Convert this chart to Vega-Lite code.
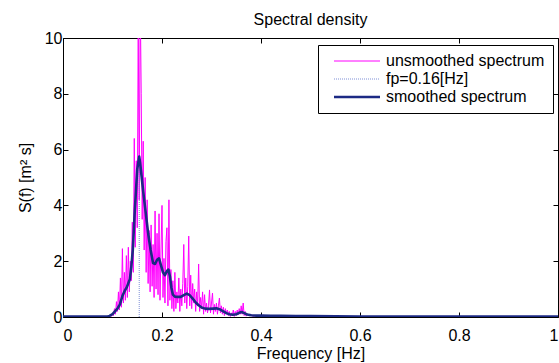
{
  "$schema": "https://vega.github.io/schema/vega-lite/v6.json",
  "width": 495,
  "height": 279,
  "autosize": {"type": "none"},
  "padding": {"left": 63, "top": 38, "right": 1, "bottom": 46},
  "background": "white",
  "title": {"text": "Spectral density", "fontSize": 16, "fontWeight": "normal", "font": "Liberation Sans", "color": "black", "offset": 2, "anchor": "middle"},
  "datasets": {
    "raw": [
      {"f": 0, "S": 0, "series": "unsmoothed spectrum"},
      {"f": 0.09, "S": 0, "series": "unsmoothed spectrum"},
      {"f": 0.094, "S": 0.02, "series": "unsmoothed spectrum"},
      {"f": 0.096, "S": 0.06, "series": "unsmoothed spectrum"},
      {"f": 0.098, "S": 0.03, "series": "unsmoothed spectrum"},
      {"f": 0.1, "S": 0.12, "series": "unsmoothed spectrum"},
      {"f": 0.102, "S": 0.05, "series": "unsmoothed spectrum"},
      {"f": 0.104, "S": 0.3, "series": "unsmoothed spectrum"},
      {"f": 0.106, "S": 0.1, "series": "unsmoothed spectrum"},
      {"f": 0.108, "S": 0.55, "series": "unsmoothed spectrum"},
      {"f": 0.11, "S": 0.2, "series": "unsmoothed spectrum"},
      {"f": 0.112, "S": 0.9, "series": "unsmoothed spectrum"},
      {"f": 0.114, "S": 0.25, "series": "unsmoothed spectrum"},
      {"f": 0.116, "S": 1.4, "series": "unsmoothed spectrum"},
      {"f": 0.118, "S": 0.35, "series": "unsmoothed spectrum"},
      {"f": 0.12, "S": 2.45, "series": "unsmoothed spectrum"},
      {"f": 0.122, "S": 0.5, "series": "unsmoothed spectrum"},
      {"f": 0.124, "S": 1.6, "series": "unsmoothed spectrum"},
      {"f": 0.126, "S": 0.6, "series": "unsmoothed spectrum"},
      {"f": 0.128, "S": 2.2, "series": "unsmoothed spectrum"},
      {"f": 0.13, "S": 0.7, "series": "unsmoothed spectrum"},
      {"f": 0.132, "S": 2.5, "series": "unsmoothed spectrum"},
      {"f": 0.134, "S": 0.9, "series": "unsmoothed spectrum"},
      {"f": 0.136, "S": 2.0, "series": "unsmoothed spectrum"},
      {"f": 0.138, "S": 1.3, "series": "unsmoothed spectrum"},
      {"f": 0.14, "S": 3.4, "series": "unsmoothed spectrum"},
      {"f": 0.142, "S": 1.6, "series": "unsmoothed spectrum"},
      {"f": 0.144, "S": 6.4, "series": "unsmoothed spectrum"},
      {"f": 0.146, "S": 2.5, "series": "unsmoothed spectrum"},
      {"f": 0.148, "S": 5.6, "series": "unsmoothed spectrum"},
      {"f": 0.15, "S": 3.2, "series": "unsmoothed spectrum"},
      {"f": 0.152, "S": 10.6, "series": "unsmoothed spectrum"},
      {"f": 0.154, "S": 4.2, "series": "unsmoothed spectrum"},
      {"f": 0.156, "S": 11.5, "series": "unsmoothed spectrum"},
      {"f": 0.158, "S": 8.0, "series": "unsmoothed spectrum"},
      {"f": 0.16, "S": 3.5, "series": "unsmoothed spectrum"},
      {"f": 0.162, "S": 6.3, "series": "unsmoothed spectrum"},
      {"f": 0.164, "S": 2.4, "series": "unsmoothed spectrum"},
      {"f": 0.166, "S": 5.0, "series": "unsmoothed spectrum"},
      {"f": 0.168, "S": 1.6, "series": "unsmoothed spectrum"},
      {"f": 0.17, "S": 4.2, "series": "unsmoothed spectrum"},
      {"f": 0.172, "S": 1.2, "series": "unsmoothed spectrum"},
      {"f": 0.174, "S": 3.1, "series": "unsmoothed spectrum"},
      {"f": 0.176, "S": 0.9, "series": "unsmoothed spectrum"},
      {"f": 0.178, "S": 3.3, "series": "unsmoothed spectrum"},
      {"f": 0.18, "S": 1.1, "series": "unsmoothed spectrum"},
      {"f": 0.182, "S": 2.6, "series": "unsmoothed spectrum"},
      {"f": 0.184, "S": 0.7, "series": "unsmoothed spectrum"},
      {"f": 0.186, "S": 3.8, "series": "unsmoothed spectrum"},
      {"f": 0.188, "S": 1.0, "series": "unsmoothed spectrum"},
      {"f": 0.19, "S": 3.0, "series": "unsmoothed spectrum"},
      {"f": 0.192, "S": 0.8, "series": "unsmoothed spectrum"},
      {"f": 0.194, "S": 3.7, "series": "unsmoothed spectrum"},
      {"f": 0.196, "S": 0.6, "series": "unsmoothed spectrum"},
      {"f": 0.198, "S": 2.4, "series": "unsmoothed spectrum"},
      {"f": 0.2, "S": 4.0, "series": "unsmoothed spectrum"},
      {"f": 0.202, "S": 0.7, "series": "unsmoothed spectrum"},
      {"f": 0.204, "S": 2.1, "series": "unsmoothed spectrum"},
      {"f": 0.206, "S": 0.5, "series": "unsmoothed spectrum"},
      {"f": 0.208, "S": 2.7, "series": "unsmoothed spectrum"},
      {"f": 0.21, "S": 3.2, "series": "unsmoothed spectrum"},
      {"f": 0.212, "S": 0.4, "series": "unsmoothed spectrum"},
      {"f": 0.214, "S": 4.2, "series": "unsmoothed spectrum"},
      {"f": 0.216, "S": 0.6, "series": "unsmoothed spectrum"},
      {"f": 0.218, "S": 1.7, "series": "unsmoothed spectrum"},
      {"f": 0.22, "S": 0.3, "series": "unsmoothed spectrum"},
      {"f": 0.222, "S": 1.3, "series": "unsmoothed spectrum"},
      {"f": 0.224, "S": 0.2, "series": "unsmoothed spectrum"},
      {"f": 0.226, "S": 1.6, "series": "unsmoothed spectrum"},
      {"f": 0.228, "S": 0.3, "series": "unsmoothed spectrum"},
      {"f": 0.23, "S": 0.9, "series": "unsmoothed spectrum"},
      {"f": 0.232, "S": 0.5, "series": "unsmoothed spectrum"},
      {"f": 0.234, "S": 1.4, "series": "unsmoothed spectrum"},
      {"f": 0.236, "S": 0.2, "series": "unsmoothed spectrum"},
      {"f": 0.238, "S": 1.0, "series": "unsmoothed spectrum"},
      {"f": 0.24, "S": 0.4, "series": "unsmoothed spectrum"},
      {"f": 0.242, "S": 1.2, "series": "unsmoothed spectrum"},
      {"f": 0.244, "S": 2.6, "series": "unsmoothed spectrum"},
      {"f": 0.246, "S": 0.5, "series": "unsmoothed spectrum"},
      {"f": 0.248, "S": 1.4, "series": "unsmoothed spectrum"},
      {"f": 0.25, "S": 0.3, "series": "unsmoothed spectrum"},
      {"f": 0.252, "S": 1.1, "series": "unsmoothed spectrum"},
      {"f": 0.254, "S": 2.9, "series": "unsmoothed spectrum"},
      {"f": 0.256, "S": 0.4, "series": "unsmoothed spectrum"},
      {"f": 0.258, "S": 1.5, "series": "unsmoothed spectrum"},
      {"f": 0.26, "S": 0.3, "series": "unsmoothed spectrum"},
      {"f": 0.262, "S": 1.2, "series": "unsmoothed spectrum"},
      {"f": 0.264, "S": 0.5, "series": "unsmoothed spectrum"},
      {"f": 0.266, "S": 1.0, "series": "unsmoothed spectrum"},
      {"f": 0.268, "S": 0.2, "series": "unsmoothed spectrum"},
      {"f": 0.27, "S": 0.9, "series": "unsmoothed spectrum"},
      {"f": 0.272, "S": 0.4, "series": "unsmoothed spectrum"},
      {"f": 0.274, "S": 1.9, "series": "unsmoothed spectrum"},
      {"f": 0.276, "S": 0.2, "series": "unsmoothed spectrum"},
      {"f": 0.278, "S": 0.7, "series": "unsmoothed spectrum"},
      {"f": 0.28, "S": 0.3, "series": "unsmoothed spectrum"},
      {"f": 0.282, "S": 0.9, "series": "unsmoothed spectrum"},
      {"f": 0.284, "S": 0.1, "series": "unsmoothed spectrum"},
      {"f": 0.286, "S": 0.8, "series": "unsmoothed spectrum"},
      {"f": 0.288, "S": 0.2, "series": "unsmoothed spectrum"},
      {"f": 0.29, "S": 0.5, "series": "unsmoothed spectrum"},
      {"f": 0.292, "S": 0.15, "series": "unsmoothed spectrum"},
      {"f": 0.294, "S": 0.4, "series": "unsmoothed spectrum"},
      {"f": 0.296, "S": 0.97, "series": "unsmoothed spectrum"},
      {"f": 0.298, "S": 0.15, "series": "unsmoothed spectrum"},
      {"f": 0.3, "S": 0.5, "series": "unsmoothed spectrum"},
      {"f": 0.302, "S": 0.86, "series": "unsmoothed spectrum"},
      {"f": 0.304, "S": 0.1, "series": "unsmoothed spectrum"},
      {"f": 0.306, "S": 0.45, "series": "unsmoothed spectrum"},
      {"f": 0.308, "S": 0.2, "series": "unsmoothed spectrum"},
      {"f": 0.31, "S": 0.5, "series": "unsmoothed spectrum"},
      {"f": 0.312, "S": 0.1, "series": "unsmoothed spectrum"},
      {"f": 0.314, "S": 0.4, "series": "unsmoothed spectrum"},
      {"f": 0.316, "S": 0.68, "series": "unsmoothed spectrum"},
      {"f": 0.318, "S": 0.15, "series": "unsmoothed spectrum"},
      {"f": 0.32, "S": 0.4, "series": "unsmoothed spectrum"},
      {"f": 0.322, "S": 0.1, "series": "unsmoothed spectrum"},
      {"f": 0.324, "S": 0.35, "series": "unsmoothed spectrum"},
      {"f": 0.326, "S": 0.05, "series": "unsmoothed spectrum"},
      {"f": 0.328, "S": 0.3, "series": "unsmoothed spectrum"},
      {"f": 0.33, "S": 0.1, "series": "unsmoothed spectrum"},
      {"f": 0.332, "S": 0.25, "series": "unsmoothed spectrum"},
      {"f": 0.334, "S": 0.05, "series": "unsmoothed spectrum"},
      {"f": 0.336, "S": 0.2, "series": "unsmoothed spectrum"},
      {"f": 0.338, "S": 0.02, "series": "unsmoothed spectrum"},
      {"f": 0.34, "S": 0.15, "series": "unsmoothed spectrum"},
      {"f": 0.342, "S": 0.05, "series": "unsmoothed spectrum"},
      {"f": 0.344, "S": 0.25, "series": "unsmoothed spectrum"},
      {"f": 0.346, "S": 0.02, "series": "unsmoothed spectrum"},
      {"f": 0.348, "S": 0.2, "series": "unsmoothed spectrum"},
      {"f": 0.35, "S": 0.05, "series": "unsmoothed spectrum"},
      {"f": 0.352, "S": 0.25, "series": "unsmoothed spectrum"},
      {"f": 0.354, "S": 0.08, "series": "unsmoothed spectrum"},
      {"f": 0.356, "S": 0.3, "series": "unsmoothed spectrum"},
      {"f": 0.358, "S": 0.1, "series": "unsmoothed spectrum"},
      {"f": 0.36, "S": 0.4, "series": "unsmoothed spectrum"},
      {"f": 0.362, "S": 0.1, "series": "unsmoothed spectrum"},
      {"f": 0.364, "S": 0.5, "series": "unsmoothed spectrum"},
      {"f": 0.366, "S": 0.05, "series": "unsmoothed spectrum"},
      {"f": 0.368, "S": 0.2, "series": "unsmoothed spectrum"},
      {"f": 0.37, "S": 0.03, "series": "unsmoothed spectrum"},
      {"f": 0.372, "S": 0.12, "series": "unsmoothed spectrum"},
      {"f": 0.376, "S": 0.04, "series": "unsmoothed spectrum"},
      {"f": 0.38, "S": 0.08, "series": "unsmoothed spectrum"},
      {"f": 0.384, "S": 0.02, "series": "unsmoothed spectrum"},
      {"f": 0.388, "S": 0.06, "series": "unsmoothed spectrum"},
      {"f": 0.392, "S": 0.02, "series": "unsmoothed spectrum"},
      {"f": 0.396, "S": 0.05, "series": "unsmoothed spectrum"},
      {"f": 0.4, "S": 0.01, "series": "unsmoothed spectrum"},
      {"f": 0.405, "S": 0.06, "series": "unsmoothed spectrum"},
      {"f": 0.41, "S": 0.02, "series": "unsmoothed spectrum"},
      {"f": 0.415, "S": 0.05, "series": "unsmoothed spectrum"},
      {"f": 0.42, "S": 0.01, "series": "unsmoothed spectrum"},
      {"f": 0.43, "S": 0.04, "series": "unsmoothed spectrum"},
      {"f": 0.44, "S": 0.01, "series": "unsmoothed spectrum"},
      {"f": 0.45, "S": 0.03, "series": "unsmoothed spectrum"},
      {"f": 0.46, "S": 0.01, "series": "unsmoothed spectrum"},
      {"f": 0.48, "S": 0.02, "series": "unsmoothed spectrum"},
      {"f": 0.5, "S": 0, "series": "unsmoothed spectrum"},
      {"f": 1.0, "S": 0, "series": "unsmoothed spectrum"}
    ],
    "fp": [
      {"f": 0.154, "S": 0, "series": "fp=0.16[Hz]"},
      {"f": 0.154, "S": 5.75, "series": "fp=0.16[Hz]"}
    ],
    "smooth": [
      {"f": 0, "S": 0.02, "series": "smoothed spectrum"},
      {"f": 0.09, "S": 0.02, "series": "smoothed spectrum"},
      {"f": 0.094, "S": 0.04, "series": "smoothed spectrum"},
      {"f": 0.1, "S": 0.1, "series": "smoothed spectrum"},
      {"f": 0.105, "S": 0.2, "series": "smoothed spectrum"},
      {"f": 0.11, "S": 0.3, "series": "smoothed spectrum"},
      {"f": 0.115, "S": 0.45, "series": "smoothed spectrum"},
      {"f": 0.12, "S": 0.75, "series": "smoothed spectrum"},
      {"f": 0.125, "S": 0.95, "series": "smoothed spectrum"},
      {"f": 0.129, "S": 1.07, "series": "smoothed spectrum"},
      {"f": 0.135, "S": 1.35, "series": "smoothed spectrum"},
      {"f": 0.138, "S": 1.8, "series": "smoothed spectrum"},
      {"f": 0.141, "S": 2.4, "series": "smoothed spectrum"},
      {"f": 0.145, "S": 3.8, "series": "smoothed spectrum"},
      {"f": 0.15, "S": 5.3, "series": "smoothed spectrum"},
      {"f": 0.154, "S": 5.75, "series": "smoothed spectrum"},
      {"f": 0.156, "S": 5.5, "series": "smoothed spectrum"},
      {"f": 0.159, "S": 5.0, "series": "smoothed spectrum"},
      {"f": 0.162, "S": 4.5, "series": "smoothed spectrum"},
      {"f": 0.166, "S": 3.9, "series": "smoothed spectrum"},
      {"f": 0.172, "S": 3.0, "series": "smoothed spectrum"},
      {"f": 0.177, "S": 2.4, "series": "smoothed spectrum"},
      {"f": 0.182, "S": 1.93, "series": "smoothed spectrum"},
      {"f": 0.186, "S": 1.9, "series": "smoothed spectrum"},
      {"f": 0.19, "S": 2.05, "series": "smoothed spectrum"},
      {"f": 0.194, "S": 2.1, "series": "smoothed spectrum"},
      {"f": 0.198, "S": 1.85, "series": "smoothed spectrum"},
      {"f": 0.202, "S": 1.6, "series": "smoothed spectrum"},
      {"f": 0.206, "S": 1.5, "series": "smoothed spectrum"},
      {"f": 0.21, "S": 1.65, "series": "smoothed spectrum"},
      {"f": 0.213, "S": 1.7, "series": "smoothed spectrum"},
      {"f": 0.216, "S": 1.45, "series": "smoothed spectrum"},
      {"f": 0.219, "S": 1.05, "series": "smoothed spectrum"},
      {"f": 0.222, "S": 0.8, "series": "smoothed spectrum"},
      {"f": 0.226, "S": 0.73, "series": "smoothed spectrum"},
      {"f": 0.232, "S": 0.72, "series": "smoothed spectrum"},
      {"f": 0.238, "S": 0.72, "series": "smoothed spectrum"},
      {"f": 0.244, "S": 0.78, "series": "smoothed spectrum"},
      {"f": 0.25, "S": 0.84, "series": "smoothed spectrum"},
      {"f": 0.256, "S": 0.78, "series": "smoothed spectrum"},
      {"f": 0.262, "S": 0.66, "series": "smoothed spectrum"},
      {"f": 0.268, "S": 0.52, "series": "smoothed spectrum"},
      {"f": 0.274, "S": 0.42, "series": "smoothed spectrum"},
      {"f": 0.28, "S": 0.34, "series": "smoothed spectrum"},
      {"f": 0.287, "S": 0.3, "series": "smoothed spectrum"},
      {"f": 0.295, "S": 0.29, "series": "smoothed spectrum"},
      {"f": 0.303, "S": 0.3, "series": "smoothed spectrum"},
      {"f": 0.31, "S": 0.31, "series": "smoothed spectrum"},
      {"f": 0.316, "S": 0.28, "series": "smoothed spectrum"},
      {"f": 0.322, "S": 0.22, "series": "smoothed spectrum"},
      {"f": 0.33, "S": 0.14, "series": "smoothed spectrum"},
      {"f": 0.336, "S": 0.1, "series": "smoothed spectrum"},
      {"f": 0.343, "S": 0.08, "series": "smoothed spectrum"},
      {"f": 0.35, "S": 0.1, "series": "smoothed spectrum"},
      {"f": 0.356, "S": 0.15, "series": "smoothed spectrum"},
      {"f": 0.361, "S": 0.18, "series": "smoothed spectrum"},
      {"f": 0.366, "S": 0.14, "series": "smoothed spectrum"},
      {"f": 0.372, "S": 0.09, "series": "smoothed spectrum"},
      {"f": 0.38, "S": 0.06, "series": "smoothed spectrum"},
      {"f": 0.39, "S": 0.05, "series": "smoothed spectrum"},
      {"f": 0.4, "S": 0.05, "series": "smoothed spectrum"},
      {"f": 0.42, "S": 0.04, "series": "smoothed spectrum"},
      {"f": 0.44, "S": 0.04, "series": "smoothed spectrum"},
      {"f": 0.47, "S": 0.03, "series": "smoothed spectrum"},
      {"f": 0.5, "S": 0.03, "series": "smoothed spectrum"},
      {"f": 0.6, "S": 0.02, "series": "smoothed spectrum"},
      {"f": 1.0, "S": 0.02, "series": "smoothed spectrum"}
    ]
  },
  "resolve": {"axis": {"x": "independent", "y": "independent"}},
  "layer": [
    {
      "data": {"name": "raw"},
      "mark": {"type": "line", "clip": true, "strokeWidth": 1},
      "encoding": {
        "x": {"field": "f", "type": "quantitative", "scale": {"domain": [0, 1], "nice": false},
              "axis": {"orient": "bottom", "title": "Frequency [Hz]", "values": [0, 0.2, 0.4, 0.6, 0.8, 1], "format": "~g", "labelPadding": 15, "titlePadding": 2}},
        "y": {"field": "S", "type": "quantitative", "scale": {"domain": [0, 10], "nice": false},
              "axis": {"orient": "left", "title": "S(f) [m² s]", "values": [0, 2, 4, 6, 8, 10], "labelPadding": 6, "titlePadding": 11}},
        "color": {"field": "series", "type": "nominal", "scale": {"domain": ["unsmoothed spectrum", "fp=0.16[Hz]", "smoothed spectrum"], "range": ["#ff00ff", "#7f8fd6", "#1c2a84"]}, "title": null,
                  "legend": {"encode": {"symbols": {"update": {
                    "strokeWidth": {"signal": "datum.value === 'smoothed spectrum' ? 2.6 : 1"},
                    "strokeDash": {"signal": "datum.value === 'fp=0.16[Hz]' ? [1, 1] : [1, 0]"}}}}}}
      }
    },
    {
      "data": {"name": "fp"},
      "mark": {"type": "line", "clip": true, "strokeWidth": 1, "strokeDash": [1, 1]},
      "encoding": {
        "x": {"field": "f", "type": "quantitative", "scale": {"domain": [0, 1], "nice": false},
              "axis": {"orient": "top", "title": null, "values": [0, 0.2, 0.4, 0.6, 0.8, 1], "labels": false}},
        "y": {"field": "S", "type": "quantitative", "scale": {"domain": [0, 10], "nice": false},
              "axis": {"orient": "right", "title": null, "values": [0, 2, 4, 6, 8, 10], "labels": false}},
        "color": {"field": "series", "type": "nominal", "title": null}
      }
    },
    {
      "data": {"name": "smooth"},
      "mark": {"type": "line", "clip": true, "strokeWidth": 2.6, "strokeJoin": "round"},
      "encoding": {
        "x": {"field": "f", "type": "quantitative", "scale": {"domain": [0, 1], "nice": false}, "axis": null},
        "y": {"field": "S", "type": "quantitative", "scale": {"domain": [0, 10], "nice": false}, "axis": null},
        "color": {"field": "series", "type": "nominal", "title": null}
      }
    }
  ],
  "config": {
    "font": "Liberation Sans",
    "view": {"stroke": "black", "strokeWidth": 1},
    "axis": {"domain": false, "grid": false, "tickColor": "black", "tickSize": -5, "tickWidth": 1,
             "labelFont": "Liberation Sans", "labelFontSize": 16, "labelColor": "black",
             "titleFont": "Liberation Sans", "titleFontSize": 16, "titleFontWeight": "normal", "titleColor": "black"},
    "legend": {"orient": "none", "legendX": 255, "legendY": 7, "direction": "vertical",
               "symbolType": "M-2.3,0H2.3", "symbolSize": 400, "symbolOffset": 23, "labelOffset": 21,
               "labelFont": "Liberation Sans", "labelFontSize": 16, "labelColor": "black", "labelLimit": 400,
               "padding": 8, "rowPadding": 2, "strokeColor": "black", "fillColor": "white", "cornerRadius": 0}
  }
}
